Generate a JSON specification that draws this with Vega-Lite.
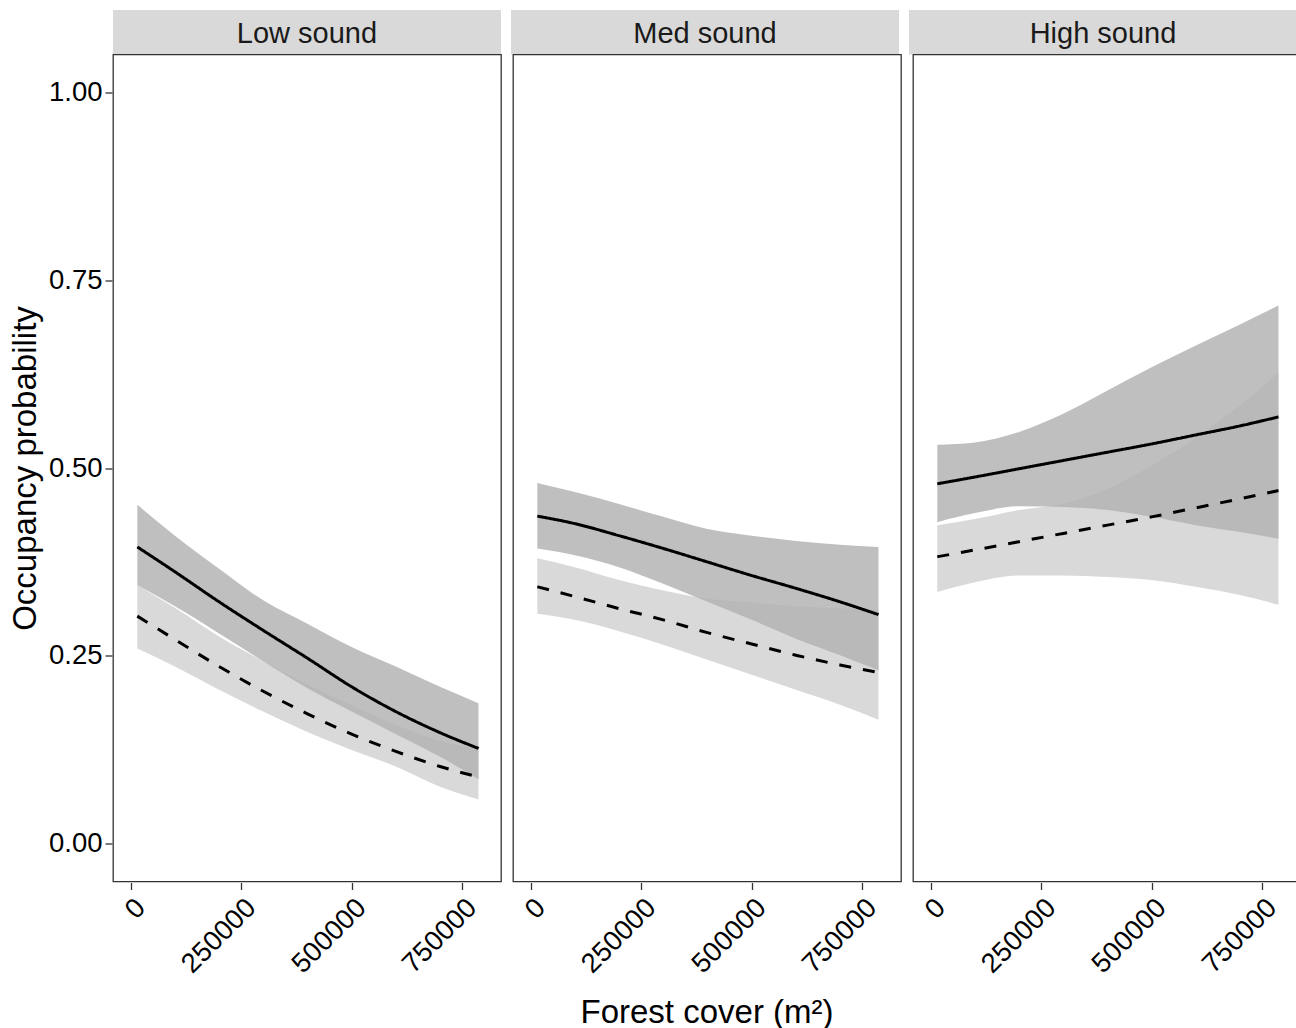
{
  "$schema": "https://vega.github.io/schema/vega-lite/v6.json",
  "padding": {"left": 9, "top": 10, "right": 0, "bottom": 0},
  "bounds": "flush",
  "spacing": 44.5,
  "datasets": {
    "strips": [
      {"sound": "Low sound"},
      {"sound": "Med sound"},
      {"sound": "High sound"}
    ],
    "curves": [
      {"sound": "Low sound", "model": "solid", "x": 15000, "fit": 0.395, "lo": 0.344, "hi": 0.451},
      {"sound": "Low sound", "model": "solid", "x": 100000, "fit": 0.362, "lo": 0.316, "hi": 0.410},
      {"sound": "Low sound", "model": "solid", "x": 200000, "fit": 0.322, "lo": 0.280, "hi": 0.366},
      {"sound": "Low sound", "model": "solid", "x": 300000, "fit": 0.284, "lo": 0.243, "hi": 0.324},
      {"sound": "Low sound", "model": "solid", "x": 400000, "fit": 0.247, "lo": 0.207, "hi": 0.293},
      {"sound": "Low sound", "model": "solid", "x": 500000, "fit": 0.209, "lo": 0.176, "hi": 0.262},
      {"sound": "Low sound", "model": "solid", "x": 600000, "fit": 0.176, "lo": 0.146, "hi": 0.236},
      {"sound": "Low sound", "model": "solid", "x": 700000, "fit": 0.148, "lo": 0.116, "hi": 0.209},
      {"sound": "Low sound", "model": "solid", "x": 787000, "fit": 0.127, "lo": 0.086, "hi": 0.187},
      {"sound": "Low sound", "model": "dashed", "x": 15000, "fit": 0.303, "lo": 0.260, "hi": 0.344},
      {"sound": "Low sound", "model": "dashed", "x": 100000, "fit": 0.272, "lo": 0.236, "hi": 0.314},
      {"sound": "Low sound", "model": "dashed", "x": 200000, "fit": 0.236, "lo": 0.205, "hi": 0.276},
      {"sound": "Low sound", "model": "dashed", "x": 300000, "fit": 0.203, "lo": 0.176, "hi": 0.243},
      {"sound": "Low sound", "model": "dashed", "x": 400000, "fit": 0.173, "lo": 0.149, "hi": 0.212},
      {"sound": "Low sound", "model": "dashed", "x": 500000, "fit": 0.146, "lo": 0.125, "hi": 0.184},
      {"sound": "Low sound", "model": "dashed", "x": 600000, "fit": 0.123, "lo": 0.103, "hi": 0.158},
      {"sound": "Low sound", "model": "dashed", "x": 700000, "fit": 0.103, "lo": 0.076, "hi": 0.137},
      {"sound": "Low sound", "model": "dashed", "x": 787000, "fit": 0.089, "lo": 0.059, "hi": 0.126},
      {"sound": "Med sound", "model": "solid", "x": 15000, "fit": 0.436, "lo": 0.393, "hi": 0.480},
      {"sound": "Med sound", "model": "solid", "x": 100000, "fit": 0.426, "lo": 0.384, "hi": 0.468},
      {"sound": "Med sound", "model": "solid", "x": 200000, "fit": 0.410, "lo": 0.368, "hi": 0.452},
      {"sound": "Med sound", "model": "solid", "x": 300000, "fit": 0.393, "lo": 0.346, "hi": 0.435},
      {"sound": "Med sound", "model": "solid", "x": 400000, "fit": 0.375, "lo": 0.322, "hi": 0.419},
      {"sound": "Med sound", "model": "solid", "x": 500000, "fit": 0.357, "lo": 0.298, "hi": 0.410},
      {"sound": "Med sound", "model": "solid", "x": 600000, "fit": 0.340, "lo": 0.273, "hi": 0.403},
      {"sound": "Med sound", "model": "solid", "x": 700000, "fit": 0.322, "lo": 0.251, "hi": 0.398},
      {"sound": "Med sound", "model": "solid", "x": 787000, "fit": 0.305, "lo": 0.231, "hi": 0.395},
      {"sound": "Med sound", "model": "dashed", "x": 15000, "fit": 0.342, "lo": 0.306, "hi": 0.380},
      {"sound": "Med sound", "model": "dashed", "x": 100000, "fit": 0.329, "lo": 0.298, "hi": 0.368},
      {"sound": "Med sound", "model": "dashed", "x": 200000, "fit": 0.313, "lo": 0.283, "hi": 0.351},
      {"sound": "Med sound", "model": "dashed", "x": 300000, "fit": 0.298, "lo": 0.265, "hi": 0.337},
      {"sound": "Med sound", "model": "dashed", "x": 400000, "fit": 0.281, "lo": 0.245, "hi": 0.326},
      {"sound": "Med sound", "model": "dashed", "x": 500000, "fit": 0.266, "lo": 0.225, "hi": 0.321},
      {"sound": "Med sound", "model": "dashed", "x": 600000, "fit": 0.251, "lo": 0.205, "hi": 0.316},
      {"sound": "Med sound", "model": "dashed", "x": 700000, "fit": 0.238, "lo": 0.185, "hi": 0.313},
      {"sound": "Med sound", "model": "dashed", "x": 787000, "fit": 0.228, "lo": 0.165, "hi": 0.311},
      {"sound": "High sound", "model": "solid", "x": 15000, "fit": 0.479, "lo": 0.428, "hi": 0.531},
      {"sound": "High sound", "model": "solid", "x": 100000, "fit": 0.488, "lo": 0.440, "hi": 0.534},
      {"sound": "High sound", "model": "solid", "x": 200000, "fit": 0.499, "lo": 0.449, "hi": 0.548},
      {"sound": "High sound", "model": "solid", "x": 300000, "fit": 0.510, "lo": 0.448, "hi": 0.572},
      {"sound": "High sound", "model": "solid", "x": 400000, "fit": 0.521, "lo": 0.444, "hi": 0.603},
      {"sound": "High sound", "model": "solid", "x": 500000, "fit": 0.532, "lo": 0.435, "hi": 0.634},
      {"sound": "High sound", "model": "solid", "x": 600000, "fit": 0.544, "lo": 0.424, "hi": 0.663},
      {"sound": "High sound", "model": "solid", "x": 700000, "fit": 0.556, "lo": 0.415, "hi": 0.691},
      {"sound": "High sound", "model": "solid", "x": 787000, "fit": 0.568, "lo": 0.406, "hi": 0.716},
      {"sound": "High sound", "model": "dashed", "x": 15000, "fit": 0.382, "lo": 0.335, "hi": 0.424},
      {"sound": "High sound", "model": "dashed", "x": 100000, "fit": 0.391, "lo": 0.348, "hi": 0.432},
      {"sound": "High sound", "model": "dashed", "x": 200000, "fit": 0.402, "lo": 0.357, "hi": 0.444},
      {"sound": "High sound", "model": "dashed", "x": 300000, "fit": 0.413, "lo": 0.357, "hi": 0.452},
      {"sound": "High sound", "model": "dashed", "x": 400000, "fit": 0.424, "lo": 0.355, "hi": 0.472},
      {"sound": "High sound", "model": "dashed", "x": 500000, "fit": 0.435, "lo": 0.351, "hi": 0.503},
      {"sound": "High sound", "model": "dashed", "x": 600000, "fit": 0.447, "lo": 0.342, "hi": 0.540},
      {"sound": "High sound", "model": "dashed", "x": 700000, "fit": 0.459, "lo": 0.331, "hi": 0.583},
      {"sound": "High sound", "model": "dashed", "x": 787000, "fit": 0.470, "lo": 0.318, "hi": 0.627}
    ]
  },
  "config": {
    "font": "Liberation Sans",
    "axis": {
      "labelFont": "Liberation Sans",
      "labelFontSize": 27.5,
      "labelColor": "#000000",
      "titleFont": "Liberation Sans",
      "titleFontSize": 33,
      "titleFontWeight": "normal",
      "titleColor": "#000000",
      "tickColor": "#333333",
      "tickWidth": 1.3,
      "tickSize": 7,
      "domain": false,
      "grid": false
    },
    "view": {"stroke": "#333333", "strokeWidth": 1.3}
  },
  "vconcat": [
    {
      "data": {"name": "strips"},
      "facet": {
        "column": {
          "field": "sound",
          "type": "nominal",
          "sort": ["Low sound", "Med sound", "High sound"],
          "header": null
        }
      },
      "spacing": {"column": 10},
      "spec": {
        "width": 388,
        "height": 44.5,
        "view": {"fill": "#d9d9d9", "stroke": null},
        "mark": {"type": "text", "fontSize": 29, "font": "Liberation Sans", "color": "#1a1a1a", "dy": 2},
        "encoding": {"text": {"field": "sound", "type": "nominal"}}
      }
    },
    {
      "data": {"name": "curves"},
      "facet": {
        "column": {
          "field": "sound",
          "type": "nominal",
          "sort": ["Low sound", "Med sound", "High sound"],
          "title": "Forest cover (m²)",
          "header": {
            "labels": false,
            "titleOrient": "bottom",
            "titleFont": "Liberation Sans",
            "titleFontSize": 33,
            "titleFontWeight": "normal",
            "titleColor": "#000000",
            "titlePadding": 8
          }
        }
      },
      "spacing": {"column": 10},
      "spec": {
        "width": 388,
        "height": 827,
        "encoding": {
          "x": {
            "field": "x",
            "type": "quantitative",
            "title": null,
            "scale": {"domain": [-40000, 838000], "nice": false, "zero": false},
            "axis": {"values": [0, 250000, 500000, 750000], "format": "d", "labelAngle": -45, "labelPadding": 4}
          }
        },
        "layer": [
          {
            "transform": [{"filter": "datum.model == 'solid'"}],
            "mark": {"type": "area", "fill": "#7f7f7f", "fillOpacity": 0.5, "stroke": null, "interpolate": "monotone"},
            "encoding": {
              "y": {
                "field": "lo",
                "type": "quantitative",
                "title": "Occupancy probability",
                "scale": {"domain": [-0.05, 1.05], "nice": false, "zero": false},
                "axis": {"values": [0, 0.25, 0.5, 0.75, 1], "format": ".2f", "labelPadding": 3, "titlePadding": 6}
              },
              "y2": {"field": "hi"}
            }
          },
          {
            "transform": [{"filter": "datum.model == 'dashed'"}],
            "mark": {"type": "area", "fill": "#b3b3b3", "fillOpacity": 0.5, "stroke": null, "interpolate": "monotone"},
            "encoding": {
              "y": {"field": "lo", "type": "quantitative"},
              "y2": {"field": "hi"}
            }
          },
          {
            "mark": {"type": "line", "color": "#000000", "strokeWidth": 3, "interpolate": "monotone"},
            "encoding": {
              "y": {"field": "fit", "type": "quantitative"},
              "strokeDash": {
                "field": "model",
                "type": "nominal",
                "scale": {"domain": ["solid", "dashed"], "range": [[1, 0], [12, 12]]},
                "legend": null
              }
            }
          }
        ]
      }
    }
  ]
}
